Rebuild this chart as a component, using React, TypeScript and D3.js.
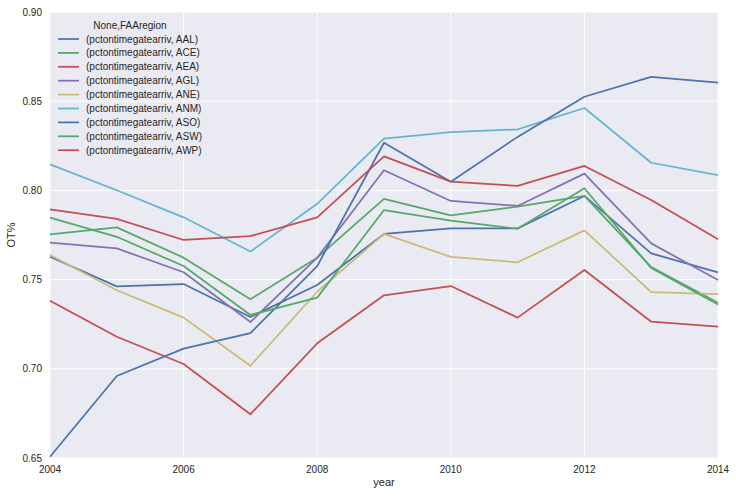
import * as d3 from "d3";
import React, { useEffect, useRef } from "react";

const years = [2004, 2005, 2006, 2007, 2008, 2009, 2010, 2011, 2012, 2013, 2014];
const regions = ["AAL", "ACE", "AEA", "AGL", "ANE", "ANM", "ASO", "ASW", "AWP"];

const aal = [0.7628, 0.7462, 0.7475, 0.729, 0.747, 0.7756, 0.7787, 0.7787, 0.7969, 0.7647, 0.7541];
const ace = [0.7754, 0.7793, 0.7623, 0.739, 0.7623, 0.7952, 0.786, 0.7909, 0.7969, 0.757, 0.737];
const aea = [0.7382, 0.718, 0.7027, 0.6745, 0.7143, 0.7412, 0.7464, 0.7287, 0.7554, 0.7264, 0.7236];
const agl = [0.7707, 0.7675, 0.7541, 0.7262, 0.7623, 0.8113, 0.7941, 0.7913, 0.8094, 0.7703, 0.7498];
const ane = [0.7638, 0.744, 0.7287, 0.7017, 0.7432, 0.7756, 0.7627, 0.7597, 0.7776, 0.743, 0.7418];
const anm = [0.8146, 0.8001, 0.7849, 0.7657, 0.7925, 0.829, 0.8326, 0.8342, 0.8462, 0.8155, 0.8086];
const aso = [0.6507, 0.696, 0.7113, 0.72, 0.7576, 0.8267, 0.8049, 0.830, 0.8525, 0.8636, 0.8604];
const asw = [0.7847, 0.774, 0.7576, 0.7302, 0.7399, 0.789, 0.783, 0.7785, 0.8012, 0.7565, 0.736];
const awp = [0.7894, 0.784, 0.7722, 0.7744, 0.7849, 0.8191, 0.8049, 0.8025, 0.8137, 0.7946, 0.7726];

const series = [aal, ace, aea, agl, ane, anm, aso, asw, awp];
const colors = ["#4C72B0", "#55A868", "#C44E52", "#8172B2", "#CCB974", "#64B5CD", "#4C72B0", "#55A868", "#C44E52"];

const xTicks = [2004, 2006, 2008, 2010, 2012, 2014];
const yTicks = [0.65, 0.7, 0.75, 0.8, 0.85, 0.9];

const W = 736, H = 496;
const m = { left: 50, right: 18, top: 12, bottom: 38 };

export default function App() {
  const ref = useRef<SVGSVGElement>(null);

  useEffect(() => {
    if (!ref.current) return;
    const svg = d3.select(ref.current);
    svg.selectAll("*").remove();

    const x = d3.scaleLinear().domain([2004, 2014]).range([m.left, W - m.right]);
    const y = d3.scaleLinear().domain([0.65, 0.9]).range([H - m.bottom, m.top]);
    const font = "'Liberation Sans', Arial, sans-serif";

    svg.append("rect")
      .attr("x", m.left).attr("y", m.top)
      .attr("width", W - m.left - m.right).attr("height", H - m.top - m.bottom)
      .attr("fill", "#EAEAF2");

    // grid
    svg.append("g").selectAll("line").data(xTicks).enter().append("line")
      .attr("x1", d => x(d)).attr("x2", d => x(d))
      .attr("y1", m.top).attr("y2", H - m.bottom)
      .attr("stroke", "#fff").attr("stroke-width", 1);
    svg.append("g").selectAll("line").data(yTicks).enter().append("line")
      .attr("x1", m.left).attr("x2", W - m.right)
      .attr("y1", d => y(d)).attr("y2", d => y(d))
      .attr("stroke", "#fff").attr("stroke-width", 1);

    // tick labels
    svg.append("g").selectAll("text").data(yTicks).enter().append("text")
      .attr("x", m.left - 8).attr("y", d => y(d)).attr("dy", "0.35em")
      .attr("text-anchor", "end").attr("font-family", font).attr("font-size", 10)
      .attr("fill", "#262626").text(d => d3.format(".2f")(d));
    svg.append("g").selectAll("text").data(xTicks).enter().append("text")
      .attr("x", d => x(d)).attr("y", H - m.bottom + 11).attr("dy", "0.35em")
      .attr("text-anchor", "middle").attr("font-family", font).attr("font-size", 10)
      .attr("fill", "#262626").text(d => String(d));

    svg.append("text")
      .attr("x", (m.left + W - m.right) / 2).attr("y", H - 10)
      .attr("text-anchor", "middle").attr("font-family", font).attr("font-size", 11)
      .attr("fill", "#262626").text("year");
    svg.append("text")
      .attr("transform", `translate(15,${(m.top + H - m.bottom) / 2}) rotate(-90)`)
      .attr("text-anchor", "middle").attr("font-family", font).attr("font-size", 11)
      .attr("fill", "#262626").text("OT%");

    // lines
    const line = d3.line<number>().x((_, i) => x(years[i])).y(d => y(d));
    series.forEach((s, i) => {
      svg.append("path").datum(s)
        .attr("d", line)
        .attr("fill", "none")
        .attr("stroke", colors[i])
        .attr("stroke-width", 1.75)
        .attr("stroke-linejoin", "round");
    });

    // legend
    const lg = svg.append("g");
    lg.append("text")
      .attr("x", 130).attr("y", 25).attr("dy", "0.35em")
      .attr("text-anchor", "middle").attr("font-family", font).attr("font-size", 10)
      .attr("fill", "#262626").text("None,FAAregion");
    regions.forEach((r, i) => {
      const yy = 39 + i * 13.9;
      lg.append("line")
        .attr("x1", 58).attr("x2", 79).attr("y1", yy).attr("y2", yy)
        .attr("stroke", colors[i]).attr("stroke-width", 1.75);
      lg.append("text")
        .attr("x", 86).attr("y", yy).attr("dy", "0.35em")
        .attr("font-family", font).attr("font-size", 10)
        .attr("fill", "#262626").text(`(pctontimegatearriv, ${r})`);
    });
  }, []);

  return <svg ref={ref} width={W} height={H} style={{ position: "absolute", left: 0, top: 0 }} />;
}
